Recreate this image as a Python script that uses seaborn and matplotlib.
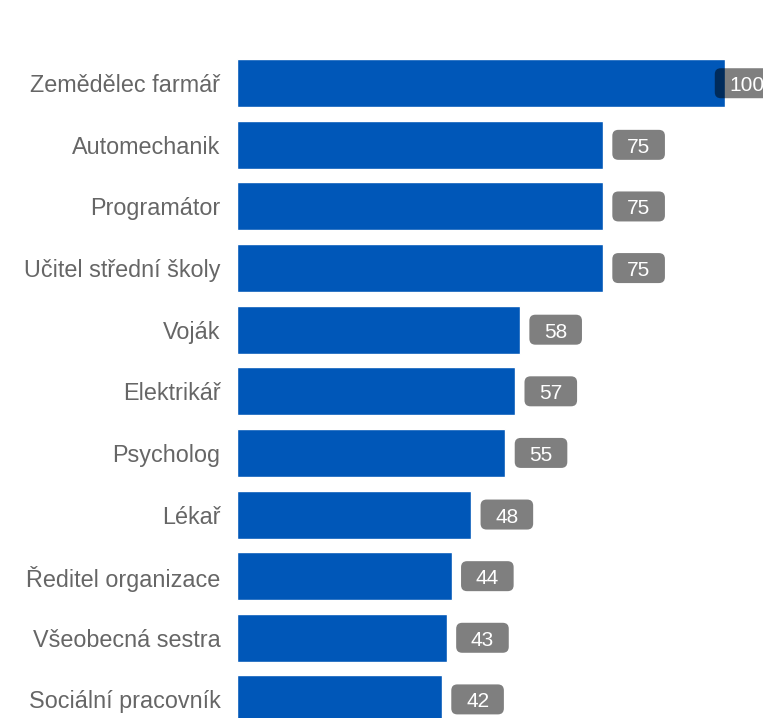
import matplotlib
matplotlib.use("Agg")
import pandas as pd
import matplotlib.pyplot as plt
import seaborn as sns
from matplotlib.patches import FancyBboxPatch
from matplotlib.transforms import IdentityTransform

professions = [
    "Zemědělec farmář", "Automechanik", "Programátor", "Učitel střední školy",
    "Voják", "Elektrikář", "Psycholog", "Lékař", "Ředitel organizace",
    "Všeobecná sestra", "Sociální pracovník",
]
scores = [100, 75, 75, 75, 58, 57, 55, 48, 44, 43, 42]

BLUE = "#0057B8"
TEXT_GREY = "#666666"

sns.set_style("white")
plt.rcParams["font.family"] = ["Liberation Sans", "DejaVu Sans"]

df = pd.DataFrame({"profession": professions, "score": scores})

fig = plt.figure(figsize=(7.63, 7.18), dpi=100)
ax = fig.add_axes([237 / 763, -0.017, (725 - 237) / 763, 0.944])

sns.barplot(data=df, y="profession", x="score", orient="h", color=BLUE,
            saturation=1, width=0.78, ax=ax)

ax.set_xlim(0, 100)
ax.set_ylim(len(professions) - 0.5, -0.5)
ax.set_xlabel("")
ax.set_ylabel("")
ax.set_xticks([])
ax.tick_params(axis="y", length=0, pad=12, labelsize=16.8, labelcolor=TEXT_GREY)
sns.despine(ax=ax, left=True, bottom=True)

# value labels: rounded translucent box (pixel sized) + white digits
for i, v in enumerate(scores):
    x = min(v + 7.3, 104.4)
    cx, cy = ax.transData.transform((x, i))
    w = 31 + 10.8 * len(str(v))
    h = 30
    box = FancyBboxPatch((cx - w / 2, cy - h / 2), w, h,
                         boxstyle="round,pad=0,rounding_size=6",
                         transform=IdentityTransform(), fc=(0, 0, 0, 0.5),
                         ec="none", clip_on=False, zorder=4)
    ax.add_artist(box)
    ax.text(x, i + 0.04, f"{v}", ha="center", va="center", fontsize=15,
            color="white", clip_on=False, zorder=5)

fig.savefig("out.png", dpi=100)
